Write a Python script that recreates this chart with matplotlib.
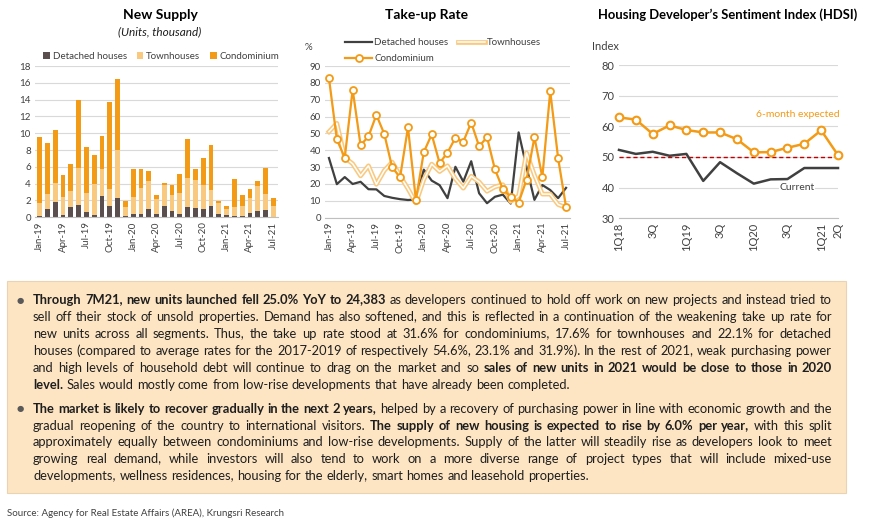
import matplotlib
matplotlib.use("Agg")
import matplotlib.pyplot as plt
import matplotlib.patheffects as pe
from matplotlib.patches import Rectangle
from matplotlib.transforms import IdentityTransform
from matplotlib.backends.backend_agg import get_hinting_flag

plt.rcParams['font.family'] = ['Lato', 'DejaVu Sans']

W, H = 870, 525

# ---- data -------------------------------------------------------------
month_names = ['Jan', 'Feb', 'Mar', 'Apr', 'May', 'Jun',
               'Jul', 'Aug', 'Sep', 'Oct', 'Nov', 'Dec']
months = [m + '-' + y for y in ['19', '20', '21'] for m in month_names][:31]

# new supply, thousand units (stacked segments)
supply_detached = [0.1, 1.0, 1.8, 0.3, 1.2, 1.5, 0.6, 0.3, 2.5, 1.3, 2.3, 0.2,
                   0.4, 0.4, 1.0, 0.4, 1.3, 0.8, 0.4, 1.2, 1.1, 1.0, 1.4, 0.4,
                   0.3, 0.2, 0.1, 0.5, 0.7, 0.9, 0.05]
supply_townhouse = [1.6, 1.8, 2.3, 2.1, 1.9, 4.4, 2.3, 3.7, 3.3, 2.1, 5.7, 1.0,
                    2.0, 3.1, 3.3, 1.8, 2.5, 1.8, 2.5, 3.5, 3.3, 2.8, 1.8, 1.3,
                    0.7, 1.0, 1.3, 1.8, 3.0, 1.9, 1.25]
supply_condo = [7.8, 6.0, 6.3, 2.6, 3.3, 8.1, 5.5, 3.4, 3.9, 10.3, 8.5, 0.7,
                3.3, 2.2, 1.2, 0.5, 0.3, 1.2, 2.2, 4.6, 1.4, 3.2, 5.4, 0.2,
                0.4, 3.4, 1.3, 1.1, 0.6, 3.1, 1.0]

# take-up rate, %
rate_detached = [35.4, 19.9, 24.1, 20.0, 21.3, 16.9, 16.8, 12.9, 11.8, 11.0, 10.5, 10.8,
                 28.5, 22.0, 19.3, 11.6, 30.2, 21.4, 33.5, 14.5, 8.6, 12.4, 13.7, 8.4,
                 50.6, 30.0, 10.6, 19.4, 16.4, 11.6, 17.7]
rate_townhouse = [51.0, 56.0, 35.7, 32.0, 24.8, 30.8, 19.8, 28.0, 33.0, 24.8, 17.2, 8.8,
                  22.6, 31.8, 27.4, 30.8, 23.0, 17.5, 24.6, 21.2, 15.7, 18.3, 19.6, 9.6,
                  13.0, 38.5, 25.3, 14.0, 14.0, 7.8, 6.0]
rate_condo = [82.8, 46.4, 35.6, 76.0, 43.0, 48.2, 61.0, 49.7, 29.8, 24.0, 53.6, 10.5,
              38.9, 49.4, 32.4, 38.6, 47.4, 45.1, 56.4, 42.4, 47.7, 28.7, 17.0, 12.3,
              9.0, 22.5, 47.7, 24.0, 75.0, 35.2, 6.3]

# HDSI
quarters = [str(q) + 'Q' + y for y in ['18', '19', '20', '21'] for q in range(1, 5)][:14]
hdsi_tick_labels = ['1Q18', '3Q', '1Q19', '3Q', '1Q20', '3Q', '1Q21', '2Q']
hdsi_expected = [62.9, 62.2, 57.5, 60.3, 58.8, 58.0, 58.0, 55.8, 51.5, 51.6, 53.0, 54.3, 58.7, 50.6]
hdsi_current = [52.3, 51.0, 51.7, 50.4, 51.0, 42.2, 48.3, 44.7, 41.3, 42.7, 42.8, 46.4, 46.4, 46.4]

para1 = [
    "**Through 7M21, new units launched fell 25.0% YoY to 24,383** as developers continued to hold off work on new projects and instead tried to",
    "sell off their stock of unsold properties. Demand has also softened, and this is reflected in a continuation of the weakening take up rate for",
    "new units across all segments. Thus, the take up rate stood at 31.6% for condominiums, 17.6% for townhouses and 22.1% for detached",
    "houses (compared to average rates for the 2017-2019 of respectively 54.6%, 23.1% and 31.9%). In the rest of 2021, weak purchasing power",
    "and high levels of household debt will continue to drag on the market and so **sales of new units in 2021 would be close to those in 2020**",
    "**level**. Sales would mostly come from low-rise developments that have already been completed.",
]
para2 = [
    "**The market is likely to recover gradually in the next 2 years**, helped by a recovery of purchasing power in line with economic growth and the",
    "gradual reopening of the country to international visitors. **The supply of new housing is expected to rise by 6.0% per year**, with this split",
    "approximately equally between condominiums and low-rise developments. Supply of the latter will steadily rise as developers look to meet",
    "growing real demand, while investors will also tend to work on a more diverse range of project types that will include mixed-use",
    "developments, wellness residences, housing for the elderly, smart homes and leasehold properties.",
]
source = "Source: Agency for Real Estate Affairs (AREA), Krungsri Research"

# ---- colours ----------------------------------------------------------
C_DET_BAR = '#5A4E4E'
C_TH = '#F9C97F'
C_CONDO = '#F39A16'
C_DARK = '#404040'
C_GRID = '#D9D9D9'
C_TEXT = '#1E1E1E'


def style_axes(ax, size=7):
    for s in ['top', 'right', 'left']:
        ax.spines[s].set_visible(False)
    ax.spines['bottom'].set_color('#BFBFBF')
    ax.grid(axis='y', color=C_GRID, lw=0.8)
    ax.set_axisbelow(True)
    ax.tick_params(length=0, labelsize=size, labelcolor=C_DARK, pad=3)


fig = plt.figure(figsize=(W / 100, H / 100), dpi=100)
fig.patch.set_facecolor('white')

# ---- New Supply -------------------------------------------------------
ax1 = fig.add_axes([35 / W, 1 - 217.3 / H, 243 / W, 151.3 / H])
style_axes(ax1)
x = list(range(len(months)))
bw = 0.62
ax1.bar(x, supply_detached, bw, color=C_DET_BAR, label='Detached houses')
ax1.bar(x, supply_townhouse, bw, bottom=supply_detached, color=C_TH, label='Townhouses')
base2 = [a + b for a, b in zip(supply_detached, supply_townhouse)]
ax1.bar(x, supply_condo, bw, bottom=base2, color=C_CONDO, label='Condominium')
ax1.set_ylim(0, 18)
ax1.set_yticks(range(0, 19, 2))
ax1.set_xlim(-0.6, 30.6)
ax1.set_xticks(x[::3])
ax1.set_xticklabels(months[::3], rotation=90)
ax1.legend(loc='lower center', bbox_to_anchor=(0.52, 1.0), ncol=3, frameon=False,
           fontsize=7, handlelength=0.7, handleheight=0.7, handletextpad=0.3,
           columnspacing=1.0, borderaxespad=0.1, labelcolor=C_DARK)
fig.text(160 / W, 1 - 15 / H, 'New Supply', fontsize=10, fontweight='bold',
         ha='center', va='center', color='black')
fig.text(160 / W, 1 - 32 / H, '(Units, thousand)', fontsize=8.5, style='italic',
         ha='center', va='center', color=C_TEXT)

# ---- Take-up Rate -----------------------------------------------------
ax2 = fig.add_axes([325 / W, 1 - 217.7 / H, 245 / W, 151.7 / H])
style_axes(ax2)
l_det, = ax2.plot(x, rate_detached, color=C_DARK, lw=1.6)
l_th, = ax2.plot(x, rate_townhouse, color='white', lw=1.1,
                 path_effects=[pe.Stroke(linewidth=3.4, foreground=C_TH), pe.Normal()])
l_con, = ax2.plot(x, rate_condo, color=C_CONDO, lw=1.6, marker='o', ms=5,
                  mfc='white', mec=C_CONDO, mew=1.3)
ax2.set_ylim(0, 90)
ax2.set_yticks(range(0, 91, 10))
ax2.set_xlim(-0.5, 30.5)
ax2.set_xticks(x[::3])
ax2.set_xticklabels(months[::3], rotation=90)
ax2.legend([l_det, l_con, l_th], ['Detached houses', 'Condominium', 'Townhouses'],
           loc='upper left', bbox_to_anchor=(345 / W, 1 - 38 / H), bbox_transform=fig.transFigure,
           ncol=2, frameon=False, fontsize=7, handlelength=2.8, handletextpad=0.2,
           columnspacing=1.0, labelspacing=0.75, borderpad=0, borderaxespad=0,
           labelcolor=C_DARK)
fig.text(427 / W, 1 - 15 / H, 'Take-up Rate', fontsize=10, fontweight='bold',
         ha='center', va='center', color='black')
fig.text(308 / W, 1 - 47 / H, '%', fontsize=7, ha='center', va='center', color=C_DARK)

# ---- HDSI -------------------------------------------------------------
ax3 = fig.add_axes([619 / W, 1 - 218.3 / H, 219 / W, 153.3 / H])
style_axes(ax3, size=8)
q = list(range(len(quarters)))
ax3.axhline(50, color='#C00000', lw=1, ls=(0, (3, 2)), zorder=2)
ax3.plot(q, hdsi_current, color=C_DARK, lw=1.8, zorder=3, clip_on=False)
ax3.plot(q, hdsi_expected, color=C_CONDO, lw=1.8, marker='o', ms=5.5, mfc='white',
         mec=C_CONDO, mew=1.5, zorder=4, clip_on=False)
ax3.set_xlim(0, 13)
ax3.set_ylim(30, 80)
ax3.set_yticks(range(30, 81, 10))
ax3.set_xticks([0, 2, 4, 6, 8, 10, 12, 13])
ax3.set_xticklabels(hdsi_tick_labels, rotation=90)
ax3.text(10.6, 63.7, '6-month expected', color=C_CONDO, fontsize=7.5, ha='center', va='center')
ax3.text(10.55, 40, 'Current', color=C_DARK, fontsize=7.5, ha='center', va='center',
         bbox=dict(boxstyle='square,pad=0.05', fc='white', ec='none'), zorder=5)
fig.text(728 / W, 1 - 15 / H, 'Housing Developer\u2019s Sentiment Index (HDSI)', fontsize=9.4,
         fontweight='bold', ha='center', va='center', color='black')
fig.text(605 / W, 1 - 47 / H, 'Index', fontsize=8, ha='center', va='center', color=C_DARK)

# ---- text box ---------------------------------------------------------
fig.patches.append(Rectangle((7 / W, 1 - 493 / H), 839 / W, 212 / H, transform=fig.transFigure,
                             facecolor='#FDE5C3', edgecolor='#EAD3B0', lw=0.8, zorder=0))


def parse_words(line):
    # words as lists of (text, bold); trailing punctuation sticks to the
    # previous piece so it doesn't get a gap of its own
    words = [[]]
    for i, part in enumerate(line.split('**')):
        for j, chunk in enumerate(part.split(' ')):
            if j > 0:
                words.append([])
            if not chunk:
                continue
            if words[-1] and all(c in '.,;:' for c in chunk):
                s, b = words[-1][-1]
                words[-1][-1] = (s + chunk, b)
            else:
                words[-1].append((chunk, i % 2 == 1))
    return [w for w in words if w]


renderer = fig.canvas.get_renderer()
BASE = 10
X0, X1 = 33, 832
STEP = 16.85


def measure(s, bold=False):
    t = fig.text(0, 0, s, fontsize=BASE, fontweight='bold' if bold else 'normal',
                 transform=IdentityTransform())
    w = t.get_window_extent(renderer).width
    t.remove()
    return w


def baseline_y(t, row):
    # y (display coords) that puts the glyph baseline of t on pixel row `row`
    # (counted from the top), so separate words don't jitter by a pixel
    font = renderer._prepare_font(t.get_fontproperties())
    font.set_text(t.get_text(), 0, flags=get_hinting_flag())
    font.draw_glyphs_to_bitmap(antialiased=True)
    d = font.get_descent() / 64.0
    h = font.get_width_height()[1] / 64.0
    img_h = font.get_image().shape[0]
    b = int(h - d + 1)
    yo = font.get_bitmap_offset()[1] / 64.0
    yflip = row - 1 + img_h - b - yo - d
    return H - yflip


space = measure('a a') - measure('aa')

lines = []
for para, y0 in [(para1, 304.3), (para2, 412.7)]:
    for i, line in enumerate(para):
        words = []
        for w in parse_words(line):
            pieces = []
            for n, (s, b) in enumerate(w):
                t = fig.text(0, 0, s, fontsize=BASE, fontweight='bold' if b else 'normal',
                             color=C_TEXT, transform=IdentityTransform())
                if n + 1 < len(w):
                    nxt = w[n + 1][0]
                    pw = measure(s + nxt, b) - measure(nxt, b)
                else:
                    pw = t.get_window_extent(renderer).width
                pieces.append((t, pw))
            words.append(pieces)
        lines.append((words, y0 + i * STEP, i == len(para) - 1))
    fig.text(20 / W, 1 - (y0 - 4.3) / H, '\u25cf', fontsize=6, color='#595959',
             family=['DejaVu Sans'], ha='center', va='center')

natural = [sum(pw for wd in ws for _, pw in wd) + space * (len(ws) - 1) for ws, _, _ in lines]
k = (X1 - X0) / max(natural)

for words, y, last in lines:
    wsum = sum(pw for wd in words for _, pw in wd) * k
    gap = space * k if last else (X1 - X0 - wsum) / (len(words) - 1)
    cx = X0
    row = int(round(y))
    for wd in words:
        for t, pw in wd:
            t.set_fontsize(BASE * k)
            t.set_position((cx, baseline_y(t, row)))
            cx += pw * k
        cx += gap

fig.text(7 / W, 1 - 513 / H, source, fontsize=7, color=C_DARK, ha='left', va='center')

fig.savefig('out.png', dpi=100)
